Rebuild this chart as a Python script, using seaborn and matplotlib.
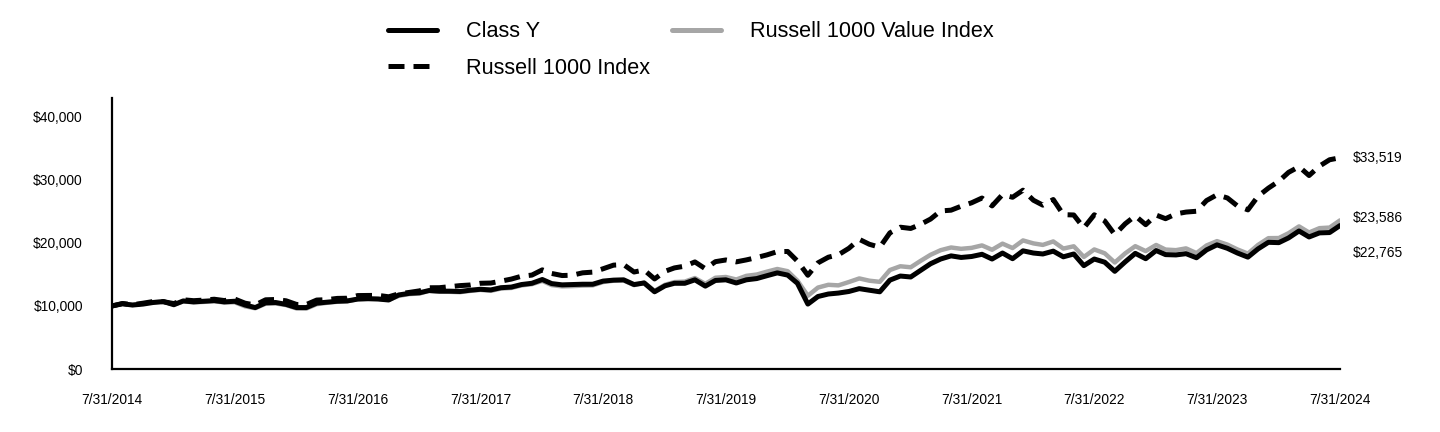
import matplotlib
matplotlib.use("Agg")
import matplotlib.pyplot as plt
from matplotlib.lines import Line2D
import seaborn as sns
import pandas as pd

# ---- data (growth of $10,000, month ends 7/31/2014 .. 7/31/2024) ----
try:
    dates = pd.date_range("2014-07-31", periods=121, freq="ME")
except Exception:
    dates = pd.date_range("2014-07-31", periods=121, freq="M")

class_y = [
    10000, 10350, 10150, 10300, 10550, 10700, 10200, 10800, 10650, 10750, 10850, 10650,
    10750, 10150, 9750, 10500, 10550, 10250, 9750, 9750, 10450, 10600, 10750, 10800,
    11100, 11150, 11100, 10950, 11750, 12000, 12100, 12450, 12350, 12350, 12300, 12500,
    12650, 12550, 12900, 13000, 13400, 13600, 14200, 13550, 13350, 13400, 13450, 13450,
    13950, 14100, 14150, 13400, 13650, 12250, 13200, 13600, 13600, 14150, 13150, 14050,
    14150, 13650, 14150, 14350, 14800, 15250, 14900, 13600, 10300, 11500, 11900, 12050,
    12300, 12750, 12500, 12250, 14100, 14750, 14600, 15600, 16700, 17450, 17950, 17700,
    17850, 18200, 17450, 18400, 17500, 18750, 18400, 18250, 18700, 17800, 18250, 16400,
    17450, 16950, 15500, 17000, 18350, 17500, 18800, 18150, 18100, 18300, 17650, 18900,
    19700, 19150, 18400, 17750, 19050, 20100, 20050, 20800, 21900, 20950, 21600, 21650,
    22765,
]

russell_1000 = [
    10000, 10390, 10200, 10440, 10700, 10680, 10380, 10980, 10840, 10930, 11070, 10860,
    11100, 10440, 10160, 10980, 11030, 10820, 10240, 10230, 10940, 11000, 11200, 11230,
    11650, 11670, 11680, 11460, 11920, 12150, 12400, 12890, 12900, 13060, 13230, 13330,
    13600, 13640, 13940, 14270, 14720, 14900, 15730, 15160, 14830, 14880, 15260, 15370,
    15910, 16480, 16560, 15390, 15710, 14290, 15500, 16040, 16320, 16990, 15910, 17030,
    17300, 17000, 17310, 17690, 18100, 18620, 18650, 17120, 14870, 16840, 17740, 18130,
    19150, 20570, 19790, 19320, 21600, 22500, 22300, 22920, 23790, 25080, 25200, 25830,
    26370, 27130, 25880, 27670, 27250, 28370, 26780, 26000, 26890, 24490, 24440, 22390,
    24470, 23490, 21330, 23040, 24300, 22900, 24430, 23850, 24610, 24900, 25030, 26730,
    27640, 27140, 25870, 25250, 27400, 28700, 29800, 31200, 32100, 30700, 32200, 33200,
    33519,
]

russell_1000_value = [
    10000, 10370, 10160, 10390, 10600, 10660, 10240, 10730, 10580, 10650, 10760, 10550,
    10590, 9940, 9640, 10360, 10400, 10140, 9610, 9590, 10280, 10500, 10670, 10760,
    11070, 11160, 11140, 10970, 11600, 11890, 11970, 12400, 12280, 12250, 12190, 12390,
    12550, 12400, 12770, 12860, 13260, 13460, 13980, 13310, 13110, 13150, 13230, 13270,
    13800, 14010, 14040, 13310, 13710, 12390, 13360, 13790, 13870, 14430, 13510, 14480,
    14600, 14200, 14780, 14990, 15440, 15870, 15520, 14020, 11620, 12920, 13360, 13270,
    13800, 14370, 14010, 13830, 15700, 16300, 16140, 17110, 18120, 18850, 19280, 19070,
    19220, 19610, 18920, 19890, 19190, 20400, 19930, 19690, 20240, 19110, 19470, 17780,
    18970, 18360, 16900, 18350, 19490, 18710, 19680, 18950, 18860, 19140, 18390, 19600,
    20290, 19740, 18970, 18310, 19680, 20760, 20780, 21550, 22630, 21660, 22350, 22440,
    23586,
]

series_names = ["Class Y", "Russell 1000 Index", "Russell 1000 Value Index"]
end_labels = ["$22,765", "$33,519", "$23,586"]
x_tick_labels = ["7/31/%d" % y for y in range(2014, 2025)]
y_ticks = [0, 10000, 20000, 30000, 40000]
y_tick_labels = ["$0", "$10,000", "$20,000", "$30,000", "$40,000"]

df = pd.DataFrame({
    "Date": dates,
    "Class Y": class_y,
    "Russell 1000 Index": russell_1000,
    "Russell 1000 Value Index": russell_1000_value,
})
long_df = df.melt(id_vars="Date", var_name="Series", value_name="Value")

# ---- styling ----
sns.set_theme(style="white")
plt.rcParams["font.family"] = ["Liberation Sans", "DejaVu Sans"]
plt.rcParams["text.color"] = "#000000"

colors = {"Class Y": "#000000", "Russell 1000 Index": "#000000",
          "Russell 1000 Value Index": "#A6A6A6"}
widths = {"Class Y": 3.6, "Russell 1000 Index": 3.6, "Russell 1000 Value Index": 3.2}
dash_map = {"Class Y": "", "Russell 1000 Index": (3.2, 1.8), "Russell 1000 Value Index": ""}

fig = plt.figure(figsize=(14.4, 4.32), dpi=100)
ax = fig.add_axes([112 / 1440, 1 - 369 / 432, (1340 - 112) / 1440, (369 - 98) / 432])

order = ["Russell 1000 Value Index", "Class Y", "Russell 1000 Index"]
sns.lineplot(data=long_df, x="Date", y="Value", hue="Series", hue_order=order,
             style="Series", style_order=order, dashes=dash_map,
             size="Series", size_order=order, sizes=widths,
             palette=colors, legend=False, ax=ax)

ax.set_xlim(dates[0], dates[-1])
ax.set_ylim(0, 43000)
ax.set_xticks(dates[::12])
ax.set_xticklabels(x_tick_labels)
ax.set_yticks(y_ticks)
ax.set_yticklabels(y_tick_labels)
ax.set_xlabel("")
ax.set_ylabel("")
ax.tick_params(axis="both", length=0, labelsize=9.9, colors="#000000")
ax.tick_params(axis="x", pad=17)
ax.tick_params(axis="y", pad=21)
for side in ["top", "right"]:
    ax.spines[side].set_visible(False)
for side in ["left", "bottom"]:
    ax.spines[side].set_color("#000000")
    ax.spines[side].set_linewidth(1.6)

# end-value labels
last_vals = {"Class Y": class_y[-1], "Russell 1000 Index": russell_1000[-1],
             "Russell 1000 Value Index": russell_1000_value[-1]}
offsets = {"Class Y": -20, "Russell 1000 Index": 0, "Russell 1000 Value Index": 2}
for name, lab in zip(series_names, end_labels):
    ax.annotate(lab, xy=(dates[-1], last_vals[name]), xytext=(9, offsets[name]),
                textcoords="offset points", ha="left", va="center",
                fontsize=9.9, color="#000000", annotation_clip=False)

# legend
handles = [
    Line2D([], [], color="#000000", lw=3.6),
    Line2D([], [], color="#000000", lw=3.6, dashes=(3.2, 1.8)),
    Line2D([], [], color="#A6A6A6", lw=3.6),
]
fig.legend(handles, series_names, loc="upper left", bbox_to_anchor=(373 / 1440, 0.986),
           ncol=2, frameon=False, fontsize=15.6, handlelength=2.26,
           handletextpad=1.34, columnspacing=1.0, labelspacing=0.72,
           borderaxespad=0.3, labelcolor="#000000")

fig.savefig("out.png", dpi=100, facecolor="white")
